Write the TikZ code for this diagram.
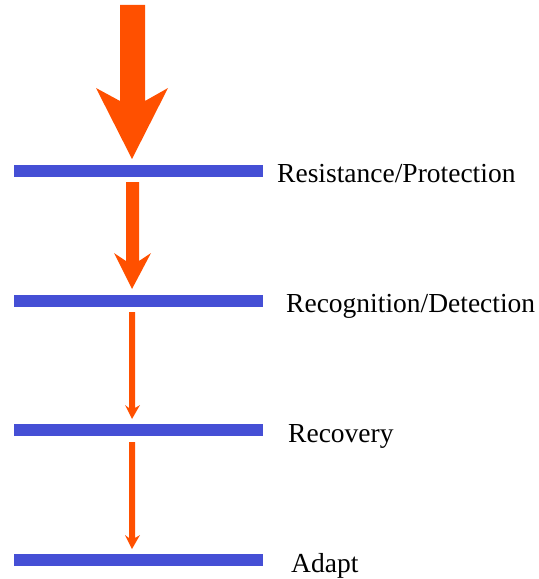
\documentclass[tikz,border=0pt]{standalone}
\usepackage{fontspec}
\setmainfont{Liberation Serif}
\definecolor{arroworange}{RGB}{255,80,0}
\definecolor{barblue}{RGB}{69,79,213}
\begin{document}
\begin{tikzpicture}[x=1bp,y=-1bp,
  bar/.style={fill=barblue},
  arr/.style={fill=arroworange},
  lbl/.style={anchor=base west,inner sep=0pt,font=\fontsize{27.5bp}{33bp}\selectfont}]
\useasboundingbox (0,0) rectangle (539,579);
% bars
\fill[bar] (14,165) rectangle (263,177);
\fill[bar] (14,295) rectangle (263,307);
\fill[bar] (14,424) rectangle (263,436);
\fill[bar] (14,554) rectangle (263,566);
% arrows
\fill[arr] (120,5) -- (145,5) -- (145,101) -- (168,88) -- (132,159) -- (96,88) -- (120,101) -- cycle;
\fill[arr] (126,182) -- (139,182) -- (139,261) -- (151,253) -- (132,289) -- (114,253) -- (126,261) -- cycle;
\fill[arr] (129,312) -- (135,312) -- (135,408) -- (140,405) -- (132,419) -- (125,405) -- (129,408) -- cycle;
\fill[arr] (129,442) -- (135,442) -- (135,538) -- (140,535) -- (132,549) -- (125,535) -- (129,538) -- cycle;
% labels
\node[lbl] (l1) at (277,182) {Resistance/Protection};
\node[lbl] (l2) at (286,312) {Recognition/Detection};
\node[lbl] (l3) at (288,442) {Recovery};
\node[lbl] (l4) at (291,572) {Adapt};
\end{tikzpicture}
\end{document}
